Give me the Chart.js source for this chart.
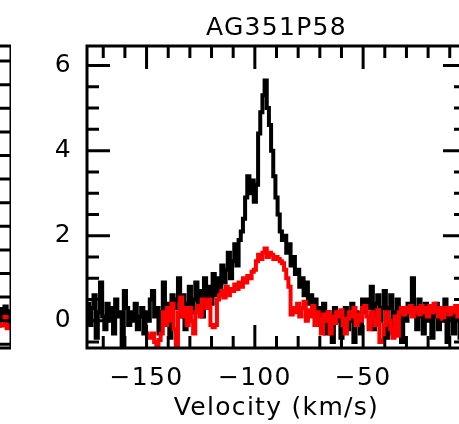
<!DOCTYPE html>
<html>
<head>
<meta charset="utf-8">
<script src="https://cdn.jsdelivr.net/npm/chart.js@4.4.1/dist/chart.umd.min.js"></script>
<style>
  html, body { margin: 0; padding: 0; background: #fff; }
  body { width: 459px; height: 424px; overflow: hidden; position: relative; }
  #leftPanel { position: absolute; left: -101px; top: 0; }
  #mainPanel { position: absolute; left: 0; top: 0; }
</style>
</head>
<body>
<canvas id="leftPanel" width="112" height="424"></canvas>
<canvas id="mainPanel" width="480" height="424"></canvas>
<script>
const sourceName = 'AG351P58';
const chanWidth = 1; // km/s per channel

// black spectrum, channels from -177 km/s
const blackStart = -177;
const blackValues = [
  0.4, -0.1, 0.3, 0.6, -0.4, 0.2, 0.9, 0.1, -0.2, 0.4,
  0.0, 0.3, -0.3, 0.5, 0.1, 0.2, -0.6, 0.7, 0.3, -0.1,
  0.2, 0.0, 0.4, -0.2, 0.1, 0.3, -0.3, 0.2, 0.0, 0.5,
  0.7, 0.1, 0.3, -0.3, 0.2, 0.9, 0.0, 0.4, -0.4, 0.6,
  0.3, 0.5, 1.0, 0.1, 0.6, -0.2, 0.4, 0.8, 0.2, 0.5,
  0.9, 0.3, 0.7, 0.1, 1.0, 0.5, 0.8, 0.4, 1.1, 0.6,
  1.0, 0.7, 1.3, 0.9, 1.2, 1.6, 1.0, 1.4, 1.8, 1.3,
  1.9, 2.1, 2.4, 2.9, 3.4, 3.0, 3.3, 2.8, 3.2, 4.4,
  4.9, 5.3, 5.65, 5.0, 4.6, 4.0, 3.4, 2.9, 2.5, 2.1,
  1.9, 2.0, 1.6, 1.8, 1.3, 1.5, 1.1, 1.2, 0.8, 1.0,
  0.6, 0.9, 0.4, 0.6, 0.2, 0.5, -0.1, 0.3, 0.0, 0.4,
  -0.3, 0.2, 0.1, -0.5, 0.3, 0.0, 0.2, -0.4, 0.1, 0.3,
  -0.2, 0.0, 0.4, -0.5, 0.2, 0.1, -0.3, 0.5, 0.2, 0.5,
  0.3, 0.8, -0.2, 0.4, 0.6, 0.0, 0.3, 0.7, -0.4, 0.3,
  0.6, -0.3, 0.2, 0.5, 0.1, -0.5, 0.3, 0.0, 0.4, 0.2,
  1.0, 0.3, -0.2, 0.5, 0.1, -0.3, 0.4, 0.0, 0.3, -0.4,
  0.1, 0.4, -0.2, 0.3, 0.0, 0.5, -0.5, 0.2, 0.1, -0.3,
  0.3, 0.0, -0.4, 0.2, 0.1
];

// red spectrum, channels from -150 km/s
const redStart = -150;
const redValues = [
  -0.3, -0.35, -0.4, -0.3, -0.5, -0.6, -0.45, -0.3, 0.2, -0.1,
  0.3, 0.0, 0.4, -0.2, -0.6, 0.2, 0.55, 0.1, 0.3, -0.1,
  0.3, 0.0, -0.3, 0.2, 0.35, 0.1, 0.5, 0.45, 0.3, 0.5,
  -0.1, -0.15, -0.1, 0.5, 0.6, 0.7, 0.55, 0.8, 0.6, 0.75,
  0.7, 0.85, 0.75, 0.9, 0.8, 1.0, 0.9, 1.05, 1.0, 1.15,
  1.2, 1.4, 1.55, 1.45, 1.6, 1.7, 1.5, 1.6, 1.55, 1.45,
  1.5, 1.45, 1.4, 1.35, 1.2, 1.0, 0.8, 0.15, 0.3, 0.2,
  0.4, 0.1, 0.3, 0.45, 0.0, 0.25, 0.1, 0.35, -0.1, 0.2,
  0.05, -0.3, 0.15, 0.0, 0.2, -0.3, 0.1, -0.05, 0.2, 0.1,
  0.25, -0.1, -0.3, 0.05, 0.2, 0.1, 0.3, -0.1, 0.15, 0.0,
  0.3, 0.35, 0.1, -0.2, 0.2, 0.05, -0.1, 0.25, -0.5, -0.45,
  -0.1, 0.2, 0.0, -0.2, -0.4, 0.1, -0.35, 0.2, 0.3, 0.15,
  0.3, 0.2, 0.35, 0.1, 0.25, 0.3, 0.15, 0.35, 0.2, 0.3,
  0.1, 0.35, 0.2, 0.4, 0.25, 0.1, 0.3, 0.05, 0.25, 0.3,
  0.15, 0.3, 0.2, 0.35, 0.1, 0.25, 0.05, 0.2
];

const velTicks = [-150, -100, -50];
const fluxTicks = [0, 2, 4, 6];

// neighbouring panel: only its right edge shows
const leftStart = -14;
const leftBlackValues = [0.1, 0.3, -0.1, 0.2, 0.0, 0.35, -0.1, 0.25, 0.05, 0.3, -0.05, 0.2];
const leftRedValues = [-0.05, 0.0, -0.1, -0.05, -0.15, -0.1, -0.05, -0.1, -0.1, 0.08, -0.16, -0.1];

const FONT = "'DejaVu Sans', sans-serif";

function toPoints(start, values) {
  return values.map((v, i) => ({ x: start + i * chanWidth, y: v }));
}

function minusFmt(v) {
  return v < 0 ? '\u2212' + Math.abs(v) : String(v);
}

// wider letter spacing, like the plotting package's font
const spacingPlugin = {
  id: 'spacing',
  beforeDraw(chart) { chart.ctx.letterSpacing = '1.3px'; }
};

// box with inward tick marks on all four sides
function framePlugin(cfg) {
  return {
    id: 'frame',
    afterDatasetsDraw(chart) {
      const { ctx, chartArea: a } = chart;
      const x = chart.scales.x, y = chart.scales.y;
      const isMajor = (list, v) => list.some(m => Math.abs(m - v) < 1e-6);
      ctx.save();
      ctx.strokeStyle = '#000';
      ctx.lineWidth = 3;
      ctx.beginPath();
      for (let k = Math.ceil(x.min / cfg.xStep); k * cfg.xStep <= x.max; k++) {
        const v = k * cfg.xStep;
        const len = isMajor(cfg.xMajor, v) ? cfg.majorLen : cfg.minorLen;
        const px = x.getPixelForValue(v);
        ctx.moveTo(px, a.bottom); ctx.lineTo(px, a.bottom - len);
        ctx.moveTo(px, a.top); ctx.lineTo(px, a.top + len);
      }
      for (let k = Math.ceil(y.min / cfg.yStep); k * cfg.yStep <= y.max; k++) {
        const v = k * cfg.yStep;
        const len = isMajor(cfg.yMajor, v) ? cfg.majorLen : cfg.minorLen;
        const py = y.getPixelForValue(v);
        ctx.moveTo(a.left, py); ctx.lineTo(a.left + len, py);
        ctx.moveTo(a.right, py); ctx.lineTo(a.right - len, py);
      }
      ctx.stroke();
      ctx.strokeRect(a.left, a.top, a.right - a.left, a.bottom - a.top);
      ctx.restore();
    }
  };
}

const lineStyle = { borderWidth: 4, stepped: 'middle', pointRadius: 0, fill: false };

// left (cut-off) panel
new Chart(document.getElementById('leftPanel'), {
  type: 'line',
  data: {
    datasets: [
      { ...lineStyle, data: toPoints(leftStart, leftRedValues), borderColor: '#ff0000', order: 1 },
      { ...lineStyle, data: toPoints(leftStart, leftBlackValues), borderColor: '#000000', order: 2 }
    ]
  },
  options: {
    responsive: false,
    animation: false,
    devicePixelRatio: 1,
    layout: { padding: { left: 0, right: 0, top: 46, bottom: 76 } },
    plugins: { legend: { display: false }, tooltip: { enabled: false } },
    scales: {
      x: { type: 'linear', display: false, min: -54.2, max: -2.5 },
      y: { display: false, min: -0.578, max: 5.82 }
    }
  },
  plugins: [framePlugin({ xStep: 10, xMajor: [-50], yStep: 0.5, yMajor: [0, 2, 4], majorLen: 23, minorLen: 12 })]
});

// main panel
new Chart(document.getElementById('mainPanel'), {
  type: 'line',
  data: {
    datasets: [
      { ...lineStyle, label: 'red', data: toPoints(redStart, redValues), borderColor: '#ff0000', order: 1 },
      { ...lineStyle, label: 'black', data: toPoints(blackStart, blackValues), borderColor: '#000000', order: 2 }
    ]
  },
  options: {
    responsive: false,
    animation: false,
    devicePixelRatio: 1,
    layout: { padding: { left: 0, right: 14, top: 0, bottom: 0 } },
    plugins: {
      legend: { display: false },
      tooltip: { enabled: false },
      title: {
        display: true,
        text: sourceName,
        fullSize: false,
        color: '#000',
        font: { family: FONT, size: 25, weight: 'normal' },
        padding: { top: 13, bottom: 3 }
      }
    },
    scales: {
      x: {
        type: 'linear',
        min: -177.5,
        max: -2.5,
        grid: { display: false, drawTicks: false },
        border: { display: false },
        afterBuildTicks: s => { s.ticks = velTicks.map(v => ({ value: v })); },
        afterFit: s => { s.height = 76; },
        ticks: { padding: 15, maxRotation: 0, color: '#000', font: { family: FONT, size: 25 }, callback: minusFmt },
        title: {
          display: true,
          text: 'Velocity (km/s)',
          color: '#000',
          font: { family: FONT, size: 25 },
          padding: { top: 0, bottom: 1 }
        }
      },
      y: {
        min: -0.64,
        max: 6.46,
        grid: { display: false, drawTicks: false },
        border: { display: false },
        afterBuildTicks: s => { s.ticks = fluxTicks.map(v => ({ value: v })); },
        afterFit: s => { s.width = 87; },
        ticks: { padding: 15, color: '#000', font: { family: FONT, size: 25 }, callback: minusFmt }
      }
    }
  },
  plugins: [spacingPlugin, framePlugin({ xStep: 10, xMajor: velTicks, yStep: 0.5, yMajor: fluxTicks, majorLen: 23, minorLen: 12 })]
});
</script>
</body>
</html>
